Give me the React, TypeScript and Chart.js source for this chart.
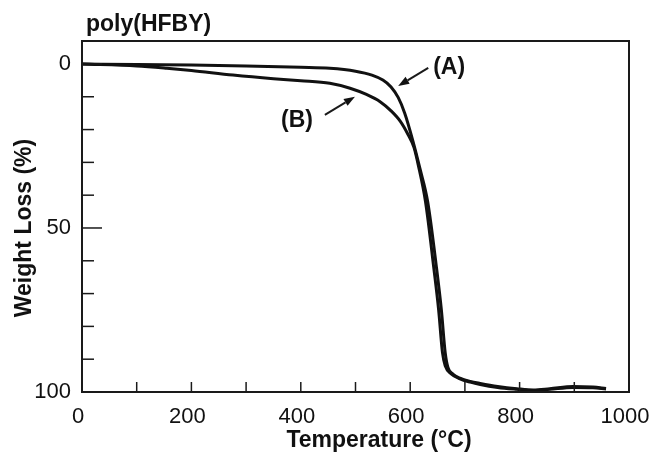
import React, { useEffect, useRef } from "react";
import { Chart, registerables } from "chart.js";

Chart.register(...registerables);

const chartTitle = "poly(HFBY)";
const xAxisTitle = "Temperature (°C)";
const yAxisTitle = "Weight Loss (%)";

const xTickLabels = [0, 200, 400, 600, 800, 1000];
const xMinorTicks = [100, 300, 500, 700, 900];
const yTickLabels = [0, 50, 100];
const yMinorTicks = [10, 20, 30, 40, 60, 70, 80, 90];

const temperatureA = [0, 100, 200, 300, 400, 453, 500, 530, 550, 565, 578, 590, 605, 618, 632, 648, 657, 664, 669, 678, 691, 710, 728, 760, 795, 825, 855, 898, 934, 958];
const weightLossA = [0, 0.2, 0.3, 0.6, 1.0, 1.3, 2.2, 3.4, 4.9, 7.0, 10.2, 15, 23.5, 32, 42, 62, 75, 88, 92.5, 94.5, 95.8, 96.8, 97.4, 98.3, 99.0, 99.4, 99.0, 98.3, 98.5, 98.9];

const temperatureB = [0, 100, 155, 200, 276, 350, 400, 453, 490, 520, 545, 565, 582, 596, 607, 615, 628, 643, 652, 659, 664, 675, 691, 710, 728, 760, 795, 825, 855, 898, 934, 958];
const weightLossB = [0, 0.6, 1.3, 2.0, 3.4, 4.5, 5.1, 5.9, 7.4, 9.3, 11.5, 14.3, 17.5, 21.5, 25.5, 31, 42, 62, 75, 88, 92, 94.5, 96, 97, 97.7, 98.6, 99.2, 99.6, 99.2, 98.6, 98.7, 99.1];

// annotation arrows, in data coordinates
const annotationLabels = ["(A)", "(B)"];
const annotationLabelX = [642, 393];
const annotationLabelY = [1.2, 17.4];
const arrowTailX = [633, 444];
const arrowTailY = [1.2, 15.5];
const arrowHeadX = [578, 499];
const arrowHeadY = [6.7, 10];

const FONT = "'Liberation Sans', Arial, Helvetica, sans-serif";

const decorPlugin = {
  id: "decor",
  afterDatasetsDraw(chart: any) {
    const { ctx, chartArea: a, scales } = chart;
    const x = scales.x;
    const y = scales.y;
    ctx.save();
    ctx.strokeStyle = "#1a1a1a";
    ctx.fillStyle = "#111";
    ctx.lineCap = "butt";

    // frame
    ctx.lineWidth = 2;
    ctx.strokeRect(a.left, a.top, a.right - a.left, a.bottom - a.top);

    // ticks
    ctx.lineWidth = 1.5;
    const seg = (x1: number, y1: number, x2: number, y2: number) => {
      ctx.beginPath();
      ctx.moveTo(x1, y1);
      ctx.lineTo(x2, y2);
      ctx.stroke();
    };
    [...xTickLabels, ...xMinorTicks].forEach((v) => {
      const px = x.getPixelForValue(v);
      seg(px, a.bottom, px, a.bottom - 10);
    });
    yMinorTicks.forEach((v) => {
      const py = y.getPixelForValue(v);
      seg(a.left, py, a.left + 12, py);
    });
    yTickLabels.forEach((v) => {
      const py = y.getPixelForValue(v);
      seg(a.left, py, a.left + 20, py);
    });

    // arrows
    ctx.lineWidth = 2;
    for (let i = 0; i < annotationLabels.length; i++) {
      const tx = x.getPixelForValue(arrowTailX[i]);
      const ty = y.getPixelForValue(arrowTailY[i]);
      const hx = x.getPixelForValue(arrowHeadX[i]);
      const hy = y.getPixelForValue(arrowHeadY[i]);
      const ang = Math.atan2(hy - ty, hx - tx);
      const hl = 11;
      const hw = 4;
      const bx = hx - hl * Math.cos(ang);
      const by = hy - hl * Math.sin(ang);
      seg(tx, ty, bx, by);
      ctx.beginPath();
      ctx.moveTo(hx, hy);
      ctx.lineTo(bx + hw * Math.sin(ang), by - hw * Math.cos(ang));
      ctx.lineTo(bx - hw * Math.sin(ang), by + hw * Math.cos(ang));
      ctx.closePath();
      ctx.fill();

      ctx.font = `bold 23px ${FONT}`;
      ctx.textBaseline = "middle";
      ctx.textAlign = i === 0 ? "left" : "center";
      ctx.fillText(
        annotationLabels[i],
        x.getPixelForValue(annotationLabelX[i]),
        y.getPixelForValue(annotationLabelY[i])
      );
    }

    // titles
    ctx.font = `bold 23px ${FONT}`;
    ctx.textAlign = "left";
    ctx.textBaseline = "alphabetic";
    ctx.fillText(chartTitle, 86, 31);

    ctx.textAlign = "center";
    ctx.textBaseline = "middle";
    ctx.fillText(xAxisTitle, 379, 441);

    ctx.translate(25, 228);
    ctx.rotate(-Math.PI / 2);
    ctx.fillText(yAxisTitle, 0, 0);

    ctx.restore();
  },
};

export default function App() {
  const ref = useRef<HTMLCanvasElement | null>(null);

  useEffect(() => {
    if (!ref.current) return;
    const mk = (ts: number[], ws: number[]) => ts.map((t, i) => ({ x: t, y: ws[i] }));
    const chart = new Chart(ref.current, {
      type: "line",
      data: {
        datasets: [
          {
            label: "(A)",
            data: mk(temperatureA, weightLossA),
            borderColor: "#111",
            borderWidth: 3,
            pointRadius: 0,
            cubicInterpolationMode: "monotone",
            fill: false,
          },
          {
            label: "(B)",
            data: mk(temperatureB, weightLossB),
            borderColor: "#111",
            borderWidth: 3,
            pointRadius: 0,
            cubicInterpolationMode: "monotone",
            fill: false,
          },
        ],
      },
      options: {
        animation: false,
        responsive: false,
        maintainAspectRatio: false,
        layout: { padding: { top: 41, right: 22, left: 0, bottom: 0 } },
        plugins: {
          legend: { display: false },
          tooltip: { enabled: false },
          title: { display: false },
        },
        scales: {
          x: {
            type: "linear",
            min: 0,
            max: 1000,
            grid: { display: false, drawTicks: false },
            border: { display: false },
            ticks: {
              color: "#111",
              font: { size: 22, family: FONT },
              padding: 12,
              labelOffset: -4,
              maxRotation: 0,
              callback: (v: any) => String(v),
            },
            afterBuildTicks: (s: any) => {
              s.ticks = xTickLabels.map((v) => ({ value: v }));
            },
            afterFit: (s: any) => {
              s.height = 65;
              s.paddingLeft = 0;
              s.paddingRight = 0;
            },
          },
          y: {
            type: "linear",
            min: -7,
            max: 100,
            reverse: true,
            grid: { display: false, drawTicks: false },
            border: { display: false },
            ticks: {
              color: "#111",
              font: { size: 22, family: FONT },
              padding: 11,
              callback: (v: any) => String(v),
            },
            afterBuildTicks: (s: any) => {
              s.ticks = yTickLabels.map((v) => ({ value: v }));
            },
            afterFit: (s: any) => {
              s.width = 82;
              s.paddingTop = 0;
              s.paddingBottom = 0;
            },
          },
        },
      },
      plugins: [decorPlugin],
    } as any);
    return () => chart.destroy();
  }, []);

  return (
    <div style={{ position: "fixed", left: 0, top: 0, width: 651, height: 457, background: "#fff" }}>
      <canvas ref={ref} width={651} height={457} style={{ width: 651, height: 457, display: "block" }} />
    </div>
  );
}
